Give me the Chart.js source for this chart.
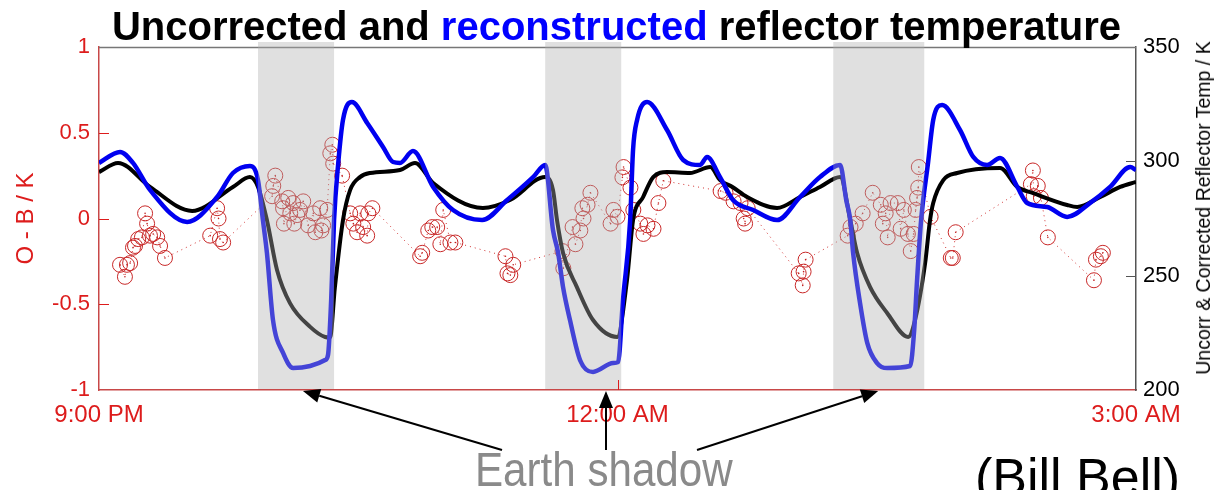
<!DOCTYPE html>
<html>
<head>
<meta charset="utf-8">
<script src="https://cdn.jsdelivr.net/npm/chart.js@4.4.1/dist/chart.umd.min.js"></script>
<style>
body { margin: 0; background: #fff; overflow: hidden; }
#wrap { position: relative; width: 1221px; height: 490px; font-family: 'Liberation Sans', Arial, sans-serif; }
canvas { position: absolute; left: 0; top: 0; }
.title { position: absolute; left: 0; top: 6px; width: 1233px; text-align: center; font-weight: bold; font-size: 40px; line-height: 40px; white-space: nowrap; }
.title span { color: #0000ff; }
.shadow { position: absolute; left: 475px; top: 445px; font-size: 49px; line-height: 49px; color: #8a8a8a; transform: scaleX(0.86); transform-origin: 0 0; white-space: nowrap; }
.credit { position: absolute; left: 975px; top: 451px; font-size: 52px; line-height: 52px; color: #000; white-space: nowrap; }
.rtitle { position: absolute; left: 1203px; top: 208px; font-size: 19.5px; line-height: 20px; color: #000; white-space: nowrap; transform: translate(-50%, -50%) rotate(-90deg); }
</style>
</head>
<body>
<div id="wrap">
  <canvas id="chart" width="1221" height="490"></canvas>
  <div class="title">Uncorrected and <span>reconstructed</span> reflector temperature</div>
  <div class="rtitle">Uncorr &amp; Corrected Reflector Temp / K</div>
  <div class="shadow">Earth shadow</div>
  <div class="credit">(Bill Bell)</div>
</div>
<script>
// x values are minutes after 9:00 PM
const xTickMin = [0, 180, 360];
const xTickText = ['9:00 PM', '12:00 AM', '3:00 AM'];

// reconstructed (blue) reflector temperature, K
const blueMin = [0, 7.3, 11.8, 17.7, 30.6, 41.0, 46.5, 52.4, 55.2, 56.9, 58.3, 60.4, 63.9, 67.4, 73.3, 78.5, 79.5, 80.6, 81.6, 83.0, 84.7, 87.8,
  93.1, 98.6, 102.1, 104.5, 109.0, 116.0, 122.9, 133.0, 141.7, 150.7, 154.9, 157.6, 159.4, 161.1, 163.5, 167.0, 171.5, 178.5, 180.2,
  181.9, 184.4, 185.4, 186.8, 190.3, 197.2, 202.8, 208.7, 211.1, 215.6, 220.1, 227.1, 235.4, 243.4, 250.3, 257.3, 259.4, 260.8, 261.8,
  264.2, 266.7, 270.1, 273.6, 281.6, 283.0, 284.0, 285.4, 287.8, 289.6, 292.7, 298.9, 303.5, 308.3, 312.8, 318.8, 322.2, 329.2, 336.1,
  344.1, 351.0, 358.0, 360];
const blueK = [299.3, 304.1, 299.3, 287.5, 273.5, 284.4, 294.9, 298.0, 291.8, 274.3, 259.9, 230.6, 216.2, 209.6, 210.5, 213.1, 215.3, 239.4, 274.3, 298.4, 318.1, 325.9,
  316.8, 306.3, 299.7, 299.3, 304.5, 288.8, 278.7, 274.3, 283.1, 293.1, 298.4, 270.0, 259.9, 245.0, 230.6, 213.1, 207.9, 211.8, 212.2,
  239.4, 274.3, 305.0, 318.1, 325.9, 313.7, 300.6, 298.4, 301.9, 293.1, 283.1, 278.7, 274.3, 284.4, 293.1, 298.4, 283.1, 274.3, 259.9,
  238.0, 220.6, 211.8, 209.6, 210.5, 226.2, 248.1, 274.3, 299.3, 318.1, 324.6, 313.7, 301.9, 298.4, 301.5, 288.8, 281.8, 280.0, 275.7,
  281.8, 288.8, 297.5, 296.2];

// uncorrected (black) reflector temperature, K
const blackMin = [0, 6.6, 17.7, 32.3, 46.5, 52.4, 55.2, 58.3, 61.8, 66.3, 73.3, 78.5, 80.2, 81.9, 84.7, 87.2, 90.6, 94.1, 104.5, 109.7,
  116.0, 133.3, 142.7, 154.9, 157.6, 159.0, 161.1, 165.9, 171.5, 179.9, 183.3, 185.4, 188.9, 192.4, 197.2, 205.2, 212.2, 215.6, 219.9,
  225.0, 235.4, 243.4, 250.3, 257.3, 260.8, 263.2, 267.7, 273.6, 280.9, 283.3, 286.8, 288.5, 289.6, 293.1, 297.9, 312.8, 318.8, 324.3,
  336.1, 339.6, 347.6, 354.5, 360];
const blackK = [295.3, 299.3, 288.8, 278.3, 288.8, 293.1, 288.8, 274.3, 252.5, 238.0, 227.6, 223.2, 223.0, 245.0, 274.3, 287.5, 293.1, 294.9, 296.2, 299.3,
  290.5, 279.6, 283.1, 293.1, 287.5, 274.3, 259.9, 245.0, 230.6, 223.2, 248.1, 274.3, 284.4, 293.1, 295.3, 294.9, 297.5, 291.8, 288.8,
  284.4, 279.6, 284.4, 288.8, 293.1, 274.3, 259.9, 245.0, 233.7, 223.2, 230.6, 255.5, 274.3, 281.8, 291.8, 294.9, 297.1, 288.8, 286.1,
  280.9, 280.0, 284.4, 288.8, 291.0];

// O - B departures, K
const obMin = [7.3, 9.0, 9.7, 10.8, 11.8, 12.5, 13.6, 14.9, 16.0, 16.7, 17.7, 18.8, 20.2, 21.2, 22.9, 38.6, 41.0, 41.5, 42.0, 43.1,
  60.1, 60.5, 61.2, 63.6, 63.9, 64.2, 65.7, 66.4, 67.4, 67.8, 68.8, 69.8, 70.9, 72.6, 74.4, 75.1, 76.8, 77.2, 77.8, 79.2, 80.3, 81.0,
  81.3, 84.4, 87.2, 88.3, 89.6, 90.7, 91.7, 93.1, 93.5, 94.9, 111.5, 112.2, 114.3, 115.7, 117.4, 118.5, 119.5, 122.0, 123.7, 141.1,
  141.8, 142.8, 143.8, 160.9, 161.2, 164.4, 165.4, 167.1, 167.8, 168.2, 169.6, 170.6, 177.6, 178.6, 180.0, 181.7, 182.1, 184.5, 185.5,
  187.9, 189.0, 190.4, 192.5, 194.2, 195.9, 215.8, 217.5, 220.3, 222.7, 223.8, 224.3, 225.2, 242.9, 244.3, 244.6, 245.3, 259.9, 260.9,
  262.7, 265.1, 268.6, 271.4, 272.1, 273.1, 273.8, 274.8, 277.3, 278.3, 279.4, 280.8, 281.8, 282.8, 283.5, 284.0, 284.4, 284.6, 288.7,
  295.7, 296.4, 297.4, 323.5, 324.2, 324.5, 325.9, 327.0, 329.4, 345.4, 346.1, 347.8, 348.5];
const obVal = [-0.27, -0.34, -0.27, -0.26, -0.17, -0.16, -0.12, -0.11, 0.03, -0.03, -0.10, -0.09, -0.11, -0.16, -0.23, -0.10, 0.06, 0.00, -0.12, -0.14,
  0.13, 0.19, 0.25, 0.10, 0.06, -0.03, 0.12, 0.03, 0.09, -0.03, 0.02, 0.05, 0.10, -0.04, 0.03, -0.08, 0.06, -0.07, -0.04, 0.05, 0.38, 0.43,
  0.32, 0.25, 0.03, -0.03, -0.08, 0.03, -0.05, -0.10, 0.03, 0.06, -0.22, -0.20, -0.07, -0.05, -0.05, -0.15, 0.05, -0.14, -0.14, -0.22,
  -0.32, -0.33, -0.27, -0.19, -0.29, -0.05, -0.15, -0.07, 0.06, 0.00, 0.08, 0.15, -0.03, 0.05, 0.01, 0.24, 0.30, 0.18, 0.05,
  -0.03, -0.09, -0.04, -0.06, 0.09, 0.22, 0.16, 0.15, 0.10, 0.09, 0.00, -0.03, 0.06, -0.32, -0.39, -0.31, -0.24, -0.10, -0.05,
  -0.03, 0.03, 0.15, 0.08, -0.03, 0.03, -0.11, 0.09, 0.09, -0.06, 0.05, -0.09, -0.19, -0.09, 0.05, 0.12, 0.18, 0.30, 0.01,
  -0.23, -0.23, -0.08, 0.20, 0.28, 0.13, 0.19, 0.12, -0.11, -0.36, -0.24, -0.22, -0.20];

// Earth shadow periods (minutes)
const shadowStart = [55.2, 154.9, 254.9];
const shadowEnd = [81.6, 181.3, 286.5];
// arrow tips (minutes) pointing at the shadows
const arrowTip = [70.8, 176.0, 270.5];

const RED = '#dd1c1c';

function pts(xs, ys) {
    return xs.map((x, i) => ({ x: x, y: ys[i] }));
}

const overlay = {
    id: 'overlay',
    beforeDatasetsDraw(chart) {
        const ctx = chart.ctx;
        const a = chart.chartArea;
        ctx.save();
        ctx.strokeStyle = '#777';
        ctx.lineWidth = 1.5;
        ctx.beginPath();
        ctx.moveTo(a.left, a.top + 0.5);
        ctx.lineTo(a.right, a.top + 0.5);
        ctx.stroke();
        ctx.restore();
    },
    afterDatasetsDraw(chart) {
        const ctx = chart.ctx;
        const a = chart.chartArea;
        const xs = chart.scales.x, yl = chart.scales.yL, yr = chart.scales.yR;
        ctx.save();
        // shadow bands drawn over the data
        ctx.fillStyle = 'rgba(174,174,174,0.39)';
        shadowStart.forEach((s, i) => {
            const x0 = xs.getPixelForValue(s), x1 = xs.getPixelForValue(shadowEnd[i]);
            ctx.fillRect(x0, a.top - 5, x1 - x0, a.bottom - a.top + 4);
        });
        // inward ticks
        ctx.lineWidth = 1;
        ctx.strokeStyle = RED;
        [0.5, 0, -0.5].forEach(v => {
            const y = Math.round(yl.getPixelForValue(v)) + 0.5;
            ctx.beginPath(); ctx.moveTo(a.left, y); ctx.lineTo(a.left + 10, y); ctx.stroke();
        });
        const xm = Math.round(xs.getPixelForValue(180)) + 0.5;
        ctx.beginPath(); ctx.moveTo(xm, a.bottom); ctx.lineTo(xm, a.bottom - 10); ctx.stroke();
        ctx.strokeStyle = '#555';
        [300, 250].forEach(v => {
            const y = Math.round(yr.getPixelForValue(v)) + 0.5;
            ctx.beginPath(); ctx.moveTo(a.right, y); ctx.lineTo(a.right - 10, y); ctx.stroke();
        });
        ctx.restore();
    },
    afterDraw(chart) {
        const ctx = chart.ctx;
        const a = chart.chartArea;
        const xs = chart.scales.x;
        const tails = [[502, 450], [606, 450], [697, 450]];
        ctx.save();
        ctx.strokeStyle = '#000';
        ctx.fillStyle = '#000';
        ctx.lineWidth = 2;
        arrowTip.forEach((m, i) => {
            const tx = xs.getPixelForValue(m), ty = a.bottom + 1;
            const [sx, sy] = tails[i];
            const ang = Math.atan2(ty - sy, tx - sx);
            const len = 17, half = 7;
            const bx = tx - len * Math.cos(ang), by = ty - len * Math.sin(ang);
            ctx.beginPath(); ctx.moveTo(sx, sy); ctx.lineTo(bx, by); ctx.stroke();
            ctx.beginPath();
            ctx.moveTo(tx, ty);
            ctx.lineTo(bx + half * Math.sin(ang), by - half * Math.cos(ang));
            ctx.lineTo(bx - half * Math.sin(ang), by + half * Math.cos(ang));
            ctx.closePath();
            ctx.fill();
        });
        ctx.restore();
    }
};

Chart.defaults.font.family = "'Liberation Sans', Arial, sans-serif";

new Chart(document.getElementById('chart').getContext('2d'), {
    type: 'line',
    data: {
        datasets: [{
            label: 'Reconstructed',
            data: pts(blueMin, blueK),
            yAxisID: 'yR',
            borderColor: '#0000f0',
            borderWidth: 4.5,
            pointRadius: 0,
            cubicInterpolationMode: 'monotone'
        }, {
            label: 'Uncorrected',
            data: pts(blackMin, blackK),
            yAxisID: 'yR',
            borderColor: '#000',
            borderWidth: 4,
            pointRadius: 0,
            cubicInterpolationMode: 'monotone'
        }, {
            label: 'O - B',
            data: pts(obMin, obVal),
            yAxisID: 'yL',
            showLine: false,
            pointRadius: 7.5,
            pointBorderWidth: 1,
            pointBorderColor: '#c82828',
            pointBackgroundColor: 'rgba(0,0,0,0)'
        }, {
            label: 'O - B track',
            data: pts(obMin, obVal),
            yAxisID: 'yL',
            borderColor: '#d03030',
            borderWidth: 1,
            borderDash: [1, 4],
            pointRadius: 0.8,
            pointBorderWidth: 0,
            pointBackgroundColor: '#c02020',
            tension: 0
        }]
    },
    options: {
        responsive: false,
        animation: false,
        layout: { padding: { top: 47, left: 0, right: 0, bottom: 0 } },
        plugins: { legend: { display: false }, tooltip: { enabled: false } },
        scales: {
            x: {
                type: 'linear',
                position: 'bottom',
                min: 0,
                max: 360,
                afterBuildTicks: s => { s.ticks = xTickMin.map(v => ({ value: v })); },
                afterFit: s => { s.height = 100; },
                grid: { display: false },
                border: { display: true, color: '#c84848', width: 1.5 },
                ticks: {
                    color: RED,
                    font: { size: 24 },
                    padding: 3,
                    maxRotation: 0,
                    autoSkip: false,
                    callback: v => xTickText[xTickMin.indexOf(v)]
                }
            },
            yL: {
                type: 'linear',
                position: 'left',
                min: -1,
                max: 1,
                afterFit: s => { s.width = 99; },
                grid: { display: false, drawTicks: false },
                border: { display: true, color: '#c84848', width: 1.5 },
                ticks: { stepSize: 0.5, color: RED, font: { size: 22 }, padding: 9, callback: v => String(v) },
                title: { display: true, text: 'O - B / K', color: RED, font: { size: 24 }, padding: { top: 12, bottom: 0 } }
            },
            yR: {
                type: 'linear',
                position: 'right',
                min: 200,
                max: 350,
                afterFit: s => { s.width = 85; },
                grid: { display: false, drawTicks: false },
                border: { display: true, color: '#555', width: 1.5 },
                ticks: { stepSize: 50, color: '#000', font: { size: 22 }, padding: 7 }
            }
        }
    },
    plugins: [overlay]
});
</script>
</body>
</html>
